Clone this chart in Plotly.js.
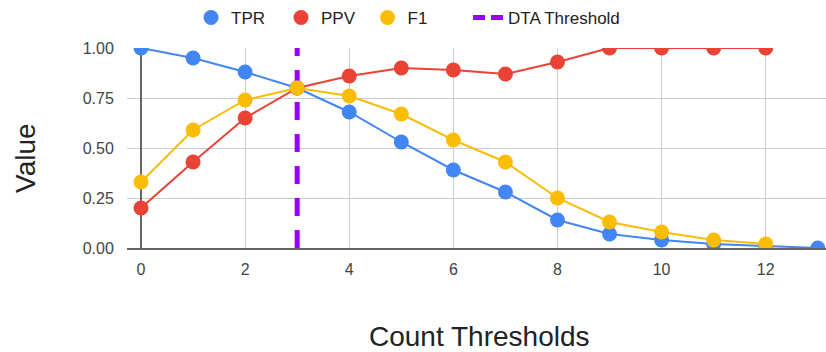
<!DOCTYPE html>
<html>
<head>
<meta charset="utf-8">
<script src="https://cdn.plot.ly/plotly-3.0.1.min.js"></script>
<style>html,body{margin:0;padding:0;background:#fff;}#chart{width:826px;height:352px;}</style>
</head>
<body>
<div id="chart"></div>
<script>
const thresholds = [0, 1, 2, 3, 4, 5, 6, 7, 8, 9, 10, 11, 12, 13];
const tpr = [1.00, 0.95, 0.88, 0.80, 0.68, 0.53, 0.39, 0.28, 0.14, 0.07, 0.04, 0.02, 0.01, 0.00];
const ppv = [0.20, 0.43, 0.65, 0.80, 0.86, 0.90, 0.89, 0.87, 0.93, 1.00, 1.00, 1.00, 1.00, null];
const f1  = [0.33, 0.59, 0.74, 0.80, 0.76, 0.67, 0.54, 0.43, 0.25, 0.13, 0.08, 0.04, 0.02, null];
const dtaThreshold = 3;
const dtaSpan = [0, 1];
const seriesNames = ['TPR', 'PPV', 'F1', 'DTA Threshold'];
const colors = ['#4285F4', '#EA4335', '#FBBC04', '#9900FF'];
const xTickVals = [0, 2, 4, 6, 8, 10, 12];
const yTickVals = [0, 0.25, 0.5, 0.75, 1];
const yTickText = ['0.00', '0.25', '0.50', '0.75', '1.00'];

const FONT = 'Arial, "Liberation Sans", sans-serif';
const legendIds = ['legend', 'legend2', 'legend3', 'legend4'];
const legendLeftPx = [191, 281, 367.5, 468];

function series(name, y, color, legendId) {
  return [
    {x: thresholds, y: y, name: name, mode: 'lines+markers', showlegend: false,
     line: {color: color, width: 2}, marker: {color: color, size: 15}, cliponaxis: true},
    {x: [null], y: [null], name: name, mode: 'markers', showlegend: true, legend: legendId,
     marker: {color: color, size: 15}}
  ];
}

const data = [
  {x: [dtaThreshold, dtaThreshold], y: dtaSpan, name: seriesNames[3], mode: 'lines', showlegend: false,
   line: {color: colors[3], width: 5, dash: '18px,14px'}},
  {x: [null], y: [null], name: seriesNames[3], mode: 'lines', showlegend: true, legend: legendIds[3],
   line: {color: colors[3], width: 5, dash: '12px,6px'}},
  ...series(seriesNames[0], tpr, colors[0], legendIds[0]),
  ...series(seriesNames[1], ppv, colors[1], legendIds[1]),
  ...series(seriesNames[2], f1, colors[2], legendIds[2])
];

const layout = {
  width: 826, height: 352,
  margin: {l: 127, r: 0, t: 48, b: 104, autoexpand: false},
  paper_bgcolor: '#fff', plot_bgcolor: '#fff',
  font: {family: FONT, color: '#444', size: 16},
  showlegend: true,
  xaxis: {range: [-0.269, 13.158], tickvals: xTickVals, showgrid: true, gridcolor: '#cccccc', gridwidth: 1,
          zeroline: true, zerolinecolor: '#666', zerolinewidth: 1.5,
          showline: true, linecolor: '#666', linewidth: 1.5,
          ticks: 'outside', ticklen: 6, tickcolor: 'rgba(0,0,0,0)',
          tickfont: {size: 16, color: '#444', family: FONT}, fixedrange: true},
  yaxis: {range: [0, 1], tickvals: yTickVals, ticktext: yTickText, showgrid: true, gridcolor: '#cccccc', gridwidth: 1,
          zeroline: false, showline: false,
          ticks: 'outside', ticklen: 9, tickcolor: 'rgba(0,0,0,0)',
          tickfont: {size: 16, color: '#444', family: FONT}, fixedrange: true},
  annotations: [
    {text: 'Value', xref: 'paper', yref: 'paper', x: -0.146, y: 0.45, xanchor: 'center', yanchor: 'middle',
     textangle: -90, showarrow: false, font: {size: 28, color: '#222', family: FONT}},
    {text: 'Count Thresholds', xref: 'paper', yref: 'paper', x: 0.505, y: -0.44, xanchor: 'center', yanchor: 'middle',
     showarrow: false, font: {size: 28, color: '#222', family: FONT}}
  ]
};

legendIds.forEach(function (id, i) {
  layout[id] = {orientation: 'h', xref: 'container', yref: 'container', x: legendLeftPx[i] / 826, xanchor: 'left',
                y: 1, yanchor: 'top', font: {size: 17, color: '#222', family: FONT},
                bgcolor: 'rgba(0,0,0,0)', borderwidth: 0};
});

Plotly.newPlot('chart', data, layout, {displayModeBar: false, staticPlot: true});
</script>
</body>
</html>
